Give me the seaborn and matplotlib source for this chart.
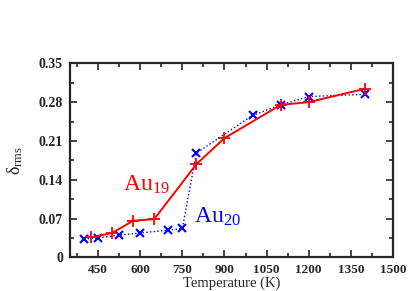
import matplotlib
matplotlib.use("Agg")
import matplotlib.pyplot as plt
import seaborn as sns
import pandas as pd
from matplotlib.ticker import MultipleLocator

sns.set_style("ticks")
plt.rcParams['font.family'] = ['Liberation Serif', 'DejaVu Serif']
plt.rcParams['mathtext.fontset'] = 'custom'
plt.rcParams['mathtext.rm'] = 'Liberation Serif'
plt.rcParams['mathtext.it'] = 'Liberation Serif:italic'
plt.rcParams['mathtext.default'] = 'regular'

au19_T = [425, 500, 575, 650, 800, 900, 1100, 1200, 1400]
au19_d = [0.036, 0.044, 0.066, 0.069, 0.168, 0.215, 0.275, 0.280, 0.304]
au20_T = [400, 450, 525, 600, 700, 750, 800, 1000, 1100, 1200, 1400]
au20_d = [0.033, 0.035, 0.040, 0.044, 0.049, 0.052, 0.188, 0.256, 0.275, 0.290, 0.294]

x_ticks = [450, 600, 750, 900, 1050, 1200, 1350, 1500]
y_ticks = [0, 0.07, 0.14, 0.21, 0.28, 0.35]
y_tick_labels = ["0", "0.07", "0.14", "0.21", "0.28", "0.35"]

df19 = pd.DataFrame({"T": au19_T, "d": au19_d})
df20 = pd.DataFrame({"T": au20_T, "d": au20_d})

fig = plt.figure(figsize=(4.15, 2.91), dpi=100)
ax = fig.add_axes([70/415, 1-257.3/291, (393-70)/415, (257.3-63.3)/291])

sns.lineplot(data=df20, x="T", y="d", ax=ax, sort=False, color="#0000ff",
             linestyle=":", linewidth=1.0, marker="x", markersize=6,
             markeredgewidth=1.5, markeredgecolor="#0000ff", zorder=2)
sns.lineplot(data=df19, x="T", y="d", ax=ax, sort=False, color="#ff0000",
             linestyle="-", linewidth=1.4, marker="+", markersize=8,
             markeredgewidth=1.3, markeredgecolor="#ff0000", zorder=3)

ax.set_xlim(350, 1500)
ax.set_ylim(0, 0.35)
ax.set_xticks(x_ticks)
ax.set_xticklabels([str(t) for t in x_ticks], fontweight="bold", fontsize=9.5)
ax.set_yticks(y_ticks)
ax.set_yticklabels(y_tick_labels, fontweight="bold", fontsize=10)
ax.xaxis.set_minor_locator(MultipleLocator(75))
ax.yaxis.set_minor_locator(MultipleLocator(0.035))
ax.tick_params(which="both", direction="in", top=True, right=True, width=1.2)
ax.tick_params(which="major", length=5, pad=5)
ax.tick_params(which="minor", length=3)
for s in ax.spines.values():
    s.set_linewidth(1.6)
    s.set_visible(True)

ax.set_xlabel("Temperature (K)", fontsize=10.5, labelpad=0)
ax.set_ylabel(r"$\delta_{\mathrm{rms}}$", fontsize=13, labelpad=10)

ax.text(538, 0.121, r"Au$_{19}$", color="#ff0000", fontsize=17)
ax.text(790, 0.062, r"Au$_{20}$", color="#0000ff", fontsize=17)

fig.savefig("out.png", dpi=100)
